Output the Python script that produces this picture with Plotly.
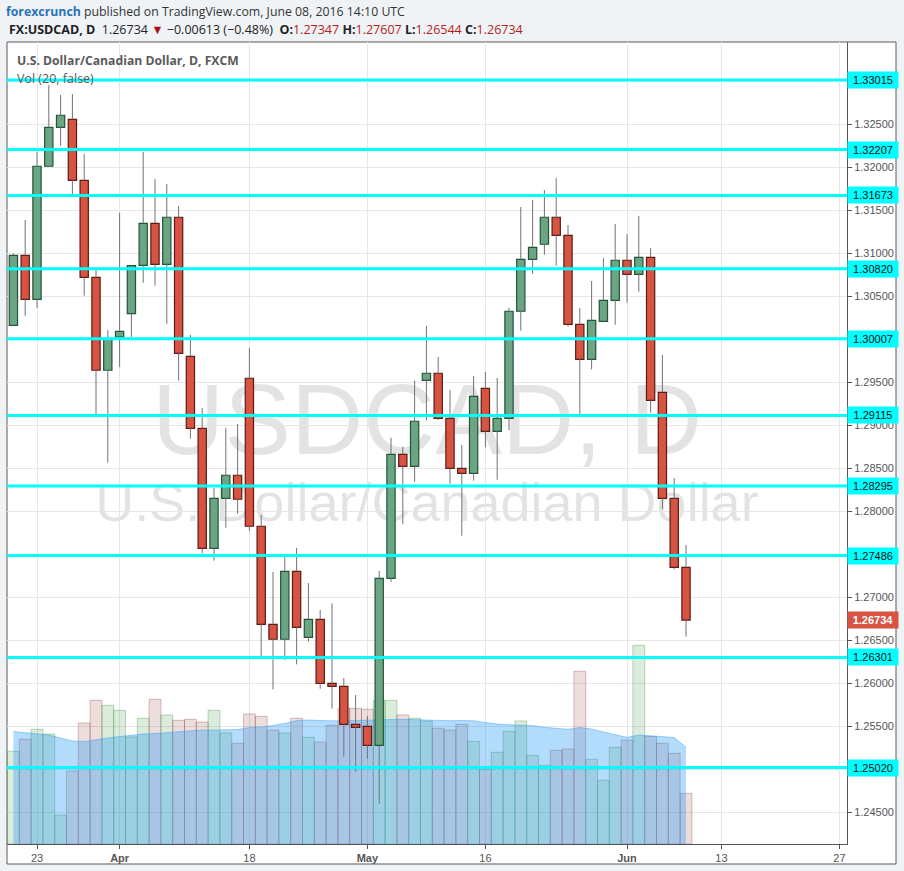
import pandas as pd
import plotly.graph_objects as go

# ---------------- data ----------------
dates = [d.strftime("%Y-%m-%d") for d in pd.bdate_range("2016-03-21", "2016-06-08")]

open_ = [1.30163, 1.30977, 1.30465, 1.32012, 1.32465, 1.32558, 1.31849, 1.30721, 1.29640, 1.30027,
         1.30298, 1.30860, 1.31349, 1.30872, 1.31419, 1.29802, 1.28965, 1.27570, 1.28151, 1.28419,
         1.29547, 1.27826, 1.26686, 1.26512, 1.27302, 1.26535, 1.26744, 1.26000, 1.25965, 1.25523,
         1.25500, 1.25279, 1.27221, 1.28663, 1.28523, 1.29523, 1.29605, 1.29081, 1.28500, 1.28442,
         1.29430, 1.28930, 1.29081, 1.30326, 1.30930, 1.31105, 1.31419, 1.31209, 1.30174, 1.29767,
         1.30209, 1.30453, 1.30919, 1.30756, 1.30953, 1.29384, 1.28151, 1.27347]
high = [1.31000, 1.31387, 1.32181, 1.32957, 1.32841, 1.32852, 1.32155, 1.30806, 1.30108, 1.31472,
        1.30860, 1.32178, 1.31864, 1.31806, 1.31550, 1.30050, 1.29201, 1.28271, 1.28969, 1.29015,
        1.29899, 1.27957, 1.27294, 1.27472, 1.27573, 1.27166, 1.26852, 1.26930, 1.26062, 1.25864,
        1.25620, 1.27306, 1.28856, 1.28751, 1.29519, 1.30155, 1.29794, 1.29410, 1.28771, 1.29573,
        1.29620, 1.29550, 1.30367, 1.31538, 1.31620, 1.31736, 1.31876, 1.31329, 1.30364, 1.30678,
        1.30945, 1.31341, 1.31224, 1.31434, 1.31062, 1.29817, 1.28387, 1.27607]
low = [1.30160, 1.30274, 1.30367, 1.32010, 1.32251, 1.31690, 1.30507, 1.29131, 1.28565, 1.29678,
       1.30027, 1.30658, 1.30623, 1.30181, 1.29519, 1.28844, 1.27512, 1.27426, 1.27809, 1.27972,
       1.27774, 1.26318, 1.25930, 1.26271, 1.26220, 1.26484, 1.25937, 1.25705, 1.25147, 1.24972,
       1.25123, 1.24600, 1.27180, 1.27849, 1.28344, 1.29058, 1.29060, 1.28321, 1.27716, 1.28356,
       1.28744, 1.28367, 1.28942, 1.30100, 1.30763, 1.30984, 1.30856, 1.30147, 1.29131, 1.29650,
       1.30200, 1.30170, 1.30426, 1.30553, 1.29147, 1.28027, 1.27326, 1.26544]
close = [1.30977, 1.30465, 1.32012, 1.32465, 1.32605, 1.31849, 1.30721, 1.29640, 1.30004, 1.30093,
         1.30856, 1.31349, 1.30872, 1.31419, 1.29837, 1.28965, 1.27570, 1.28151, 1.28419, 1.28140,
         1.27826, 1.26686, 1.26512, 1.27302, 1.26651, 1.26744, 1.26000, 1.25965, 1.25523, 1.25488,
         1.25279, 1.27221, 1.28663, 1.28523, 1.29047, 1.29605, 1.29081, 1.28500, 1.28442, 1.29337,
         1.28930, 1.29081, 1.30326, 1.30930, 1.31070, 1.31419, 1.31209, 1.30174, 1.29767, 1.30221,
         1.30453, 1.30919, 1.30756, 1.30953, 1.29291, 1.28151, 1.27347, 1.26734]
volume = [92.7, 104.7, 114.7, 110.0, 29.0, 73.0, 121.0, 143.7, 138.7, 133.7,
          107.0, 125.7, 144.7, 129.0, 123.7, 124.7, 122.0, 133.7, 111.0, 100.7,
          130.0, 127.7, 114.0, 111.0, 125.7, 106.7, 102.0, 118.7, 135.7, 135.7,
          134.7, 143.7, 143.7, 129.0, 125.7, 123.0, 115.7, 114.0, 119.7, 102.7,
          74.7, 91.7, 112.7, 123.0, 88.7, 78.7, 93.7, 95.0, 172.7, 84.7,
          63.7, 96.7, 104.0, 198.7, 107.7, 100.7, 90.7, 50.7]
vol_ma20 = [112.5, 111.5, 110.5, 109.0, 106.0, 103.0, 102.5, 104.5, 106.0, 107.5,
            109.0, 110.0, 110.5, 111.3, 112.5, 113.5, 114.0, 114.0, 114.0, 114.5,
            116.5, 117.0, 118.5, 120.5, 123.5, 124.0, 123.5, 123.0, 123.0, 123.5,
            124.0, 124.2, 124.5, 124.7, 124.2, 124.0, 123.5, 123.3, 123.5, 123.3,
            121.5, 120.0, 119.3, 119.0, 118.5, 116.7, 115.5, 114.7, 116.5, 115.0,
            112.0, 109.0, 106.7, 109.0, 108.0, 107.0, 106.5, 96.7]

levels = [1.33015, 1.32207, 1.31673, 1.30820, 1.30007, 1.29115, 1.28295, 1.27486, 1.26301, 1.25020]
last_price = 1.26734

price_ticks = [1.245, 1.250, 1.255, 1.260, 1.265, 1.270, 1.275, 1.280, 1.285, 1.290,
               1.295, 1.300, 1.305, 1.310, 1.315, 1.320, 1.325, 1.330]
# tick labels hidden behind the level boxes in the reference
hidden_price_ticks = [1.250, 1.275, 1.300, 1.330]
x_tick_dates = ["2016-03-23", "2016-04-01", "2016-04-18", "2016-05-02", "2016-05-16",
                "2016-06-01", "2016-06-13", "2016-06-27"]
x_tick_labels = ["23", "<b>Apr</b>", "18", "<b>May</b>", "16", "<b>Jun</b>", "13", "27"]

# ---------------- helpers ----------------
all_days = [d.strftime("%Y-%m-%d") for d in pd.bdate_range("2016-03-21", "2016-06-30")]
pos = {d: i for i, d in enumerate(all_days)}
xs = [pos[d] for d in dates]
up = [c >= o for o, c in zip(open_, close)]

UP_FILL, UP_LINE = "#6ba583", "#225437"
DN_FILL, DN_LINE = "#d75442", "#5b1a13"
WICK = "#737375"

fig = go.Figure()

# volume bars (main subplot, hidden axis)
fig.add_trace(go.Bar(
    x=xs, y=volume, width=1.0, yaxis="y",
    marker=dict(color=["rgba(60,150,60,0.18)" if u else "rgba(149,60,60,0.17)" for u in up],
                line=dict(color=["rgba(60,150,60,0.35)" if u else "rgba(149,60,60,0.32)" for u in up],
                          width=1)),
    hoverinfo="skip", showlegend=False))

# volume MA area
fig.add_trace(go.Scatter(
    x=xs, y=vol_ma20, yaxis="y", mode="lines", fill="tozeroy",
    fillcolor="rgba(33,150,243,0.34)", line=dict(color="rgba(33,150,243,0.40)", width=1),
    hoverinfo="skip", showlegend=False))

# candle bodies (overlay price axis)
fig.add_trace(go.Bar(
    x=xs, y=[abs(c - o) for o, c in zip(open_, close)],
    base=[min(o, c) for o, c in zip(open_, close)], width=0.7, yaxis="y2",
    marker=dict(color=[UP_FILL if u else DN_FILL for u in up],
                line=dict(color=[UP_LINE if u else DN_LINE for u in up], width=1.2)),
    hoverinfo="skip", showlegend=False))

# wicks (upper and lower segments)
wx, wy = [], []
for x, o, h, l, c in zip(xs, open_, high, low, close):
    top, bot = max(o, c), min(o, c)
    if h > top:
        wx += [x, x, None]
        wy += [h, top, None]
    if l < bot:
        wx += [x, x, None]
        wy += [bot, l, None]
fig.add_trace(go.Scatter(x=wx, y=wy, yaxis="y2", mode="lines",
                         line=dict(color=WICK, width=1), hoverinfo="skip", showlegend=False))

# ---------------- layout ----------------
W, H = 904, 871
L, R, T, B = 7, 847, 42, 844


def px_x(p):
    return (p - L) / (R - L)


def px_y(p):
    return (B - p) / (B - T)


fig.update_layout(
    width=W, height=H, autosize=False,
    margin=dict(l=L, r=W - R, t=T, b=H - B, pad=0),
    paper_bgcolor="#f0f3f6", plot_bgcolor="white",
    barmode="overlay", showlegend=False, dragmode=False,
    xaxis=dict(range=[-0.542, 70.644], tickvals=[pos[d] for d in x_tick_dates],
               ticktext=x_tick_labels, showgrid=True, gridcolor="#e6e6e6", gridwidth=1,
               zeroline=False, showline=True, linecolor="#555555", linewidth=1,
               ticks="outside", ticklen=4, tickcolor="#555555",
               tickfont=dict(family="Liberation Sans", size=11, color="#555555"),
               fixedrange=True),
    yaxis=dict(range=[0, 802], visible=False, showgrid=False, zeroline=False, fixedrange=True),
    yaxis2=dict(range=[1.241314, 1.33457], overlaying="y", side="right", anchor="x",
                tickvals=price_ticks,
                ticktext=["" if v in hidden_price_ticks else f"{v:.5f}" for v in price_ticks],
                showgrid=True, gridcolor="#e6e6e6", gridwidth=1, zeroline=False,
                showline=True, linecolor="#555555", linewidth=1,
                ticks="outside", ticklen=4, tickcolor="#555555",
                tickfont=dict(family="Liberation Sans", size=11, color="#555555"),
                fixedrange=True),
)

# chart frame (outer white panel with border)
fig.add_shape(type="rect", xref="paper", yref="paper",
              x0=px_x(7), x1=px_x(896), y0=px_y(864), y1=px_y(42),
              fillcolor="white", line=dict(color="#5a5a5a", width=1), layer="below")

# watermark
fig.add_shape(type="rect", xref="paper", yref="paper",
              x0=0, x1=1, y0=px_y(440), y1=px_y(380),
              fillcolor="rgba(0,0,0,0)", line=dict(width=0), layer="below",
              label=dict(text="USDCAD, D", textposition="middle center",
                         font=dict(family="Liberation Sans", size=100, color="rgba(0,0,0,0.11)")))
fig.add_shape(type="rect", xref="paper", yref="paper",
              x0=0, x1=1, y0=px_y(512), y1=px_y(482),
              fillcolor="rgba(0,0,0,0)", line=dict(width=0), layer="below",
              label=dict(text="U.S. Dollar/Canadian Dollar", textposition="middle center",
                         font=dict(family="Liberation Sans", size=54, color="rgba(0,0,0,0.11)")))

# horizontal support/resistance lines
for lv in levels:
    fig.add_shape(type="line", xref="paper", yref="y2", x0=0, x1=1, y0=lv, y1=lv,
                  line=dict(color="#00ffff", width=3), layer="above")

# price labels on axis
for lv in levels:
    fig.add_annotation(x=1, xref="paper", y=lv, yref="y2", xanchor="left", yanchor="middle",
                       text=f"{lv:.5f}", showarrow=False, bgcolor="#00ffff",
                       width=46, height=12, borderpad=2, align="center",
                       font=dict(family="Liberation Sans", size=11, color="#111111"))
fig.add_annotation(x=1, xref="paper", y=last_price, yref="y2", xanchor="left", yanchor="middle",
                   text=f"<b>{last_price:.5f}</b>", showarrow=False, bgcolor="#d75442",
                   width=46, height=12, borderpad=2, align="center",
                   font=dict(family="Liberation Sans", size=11, color="white"))

# header texts
fig.add_annotation(x=px_x(4), y=px_y(11.5), xref="paper", yref="paper", xanchor="left",
                   yanchor="middle", showarrow=False, align="left",
                   text='<span style="color:#2b74b8"><b>forexcrunch</b></span> published on TradingView.com, June 08, 2016 14:10 UTC',
                   font=dict(family="Open Sans", size=12.3, color="#333333"))
red = "#b71c1c"
line2 = ('<b>FX:USDCAD, D</b>  1.26734 <span style="color:#a31515">▼</span> −0.00613 (−0.48%)  '
         f'<b>O:</b><span style="color:{red}">1.27347</span> '
         f'<b>H:</b><span style="color:{red}">1.27607</span> '
         f'<b>L:</b><span style="color:{red}">1.26544</span> '
         f'<b>C:</b><span style="color:{red}">1.26734</span>')
fig.add_annotation(x=px_x(7), y=px_y(29.5), xref="paper", yref="paper", xanchor="left",
                   yanchor="middle", showarrow=False, align="left", text=line2,
                   font=dict(family="Open Sans", size=12.5, color="#222222"))
fig.add_annotation(x=px_x(15), y=px_y(60), xref="paper", yref="paper", xanchor="left",
                   yanchor="middle", showarrow=False, align="left",
                   text="<b>U.S. Dollar/Canadian Dollar, D, FXCM</b>",
                   font=dict(family="Open Sans", size=12.2, color="#5a5a5a"))
fig.add_annotation(x=px_x(15), y=px_y(79), xref="paper", yref="paper", xanchor="left",
                   yanchor="middle", showarrow=False, align="left",
                   text="Vol (20, false)",
                   font=dict(family="Open Sans", size=12.5, color="#5a5a5a"))

fig.write_html(
    "out.html",
    config={"displayModeBar": False},
    post_script="document.body.style.margin='0px';document.body.style.backgroundColor='#f0f3f6';",
)
